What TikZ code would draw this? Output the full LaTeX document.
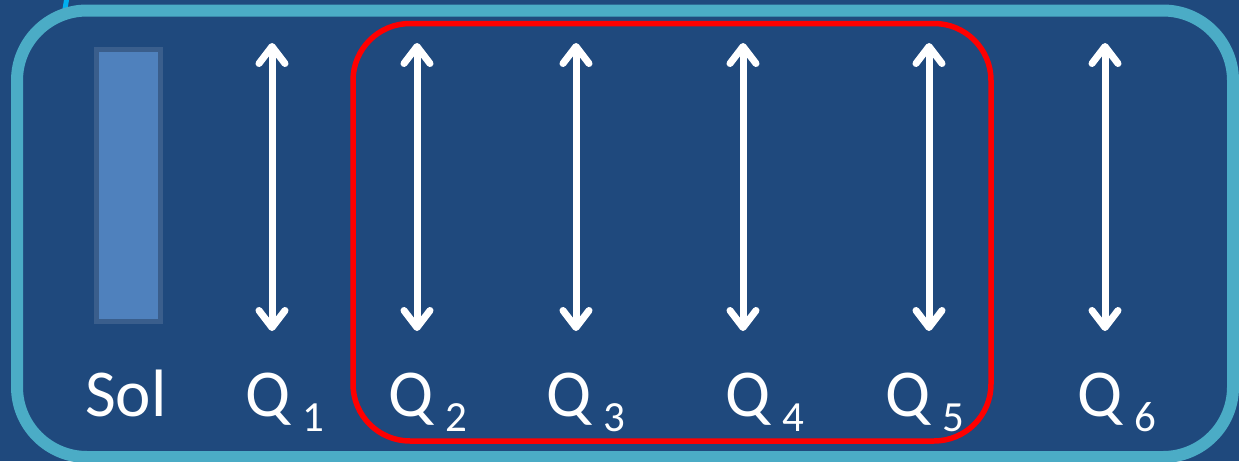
\documentclass[tikz,border=0pt]{standalone}
\usepackage{fontspec}
\setmainfont{Carlito}
\usetikzlibrary{arrows.meta}
\definecolor{bgblue}{HTML}{1F497D}
\definecolor{framecyan}{HTML}{4BACC6}
\definecolor{solfill}{HTML}{4F81BD}
\definecolor{solborder}{HTML}{3A5E8C}
\definecolor{skyline}{HTML}{00B0F0}
\newcommand{\subsz}{\fontsize{43pt}{43pt}\selectfont}
\newcommand{\qlabel}[1]{Q\hspace{12pt}\raisebox{-15pt}{\subsz #1}}
\tikzset{
  lbl/.style={anchor=base west, inner sep=0pt, text=white, font=\fontsize{67pt}{67pt}\selectfont},
  dblarrow/.style={white, line width=7pt, {Straight Barb[length=17pt,width=26pt,round]}-{Straight Barb[length=17pt,width=26pt,round]}},
  endpt/.style={inner sep=0pt, minimum size=0pt}
}
\begin{document}
\begin{tikzpicture}[x=1pt,y=-1pt]
\useasboundingbox (0,0) rectangle (1239,461);
\fill[bgblue] (0,0) rectangle (1239,461);
% small sky-blue line at top left
\coordinate (s1) at (67,-3);
\coordinate (s2) at (64.5,12);
\draw[skyline, line width=5pt] (s1) -- (s2);
% outer frame
\draw[framecyan, line width=12pt, rounded corners=70pt] (17,10.5) rectangle (1233,457);
% red grouping frame
\draw[red, line width=5.5pt, rounded corners=57pt] (353,23.5) rectangle (991,441);
% Sol bar
\node[draw=solborder, line width=5.5pt, fill=solfill, minimum width=64pt, minimum height=272pt, inner sep=0pt] (sol) at (128.5,185.5) {};
% arrows
\foreach \n/\x in {1/272,2/417,3/576,4/743,5/929,6/1105}{
  \coordinate (t\n) at (\x,43);
  \coordinate (b\n) at (\x,331);
  \draw[dblarrow] (t\n) -- (b\n);
}
% labels
\node[lbl] (lsol) at (85,416) {Sol};
\node[lbl] (l1) at (245,416) {\qlabel{1}};
\node[lbl] (l2) at (388,416) {\qlabel{2}};
\node[lbl] (l3) at (546,416) {\qlabel{3}};
\node[lbl] (l4) at (725,416) {\qlabel{4}};
\node[lbl] (l5) at (885,416) {\qlabel{5}};
\node[lbl] (l6) at (1077,416) {\qlabel{6}};
\end{tikzpicture}
\end{document}
